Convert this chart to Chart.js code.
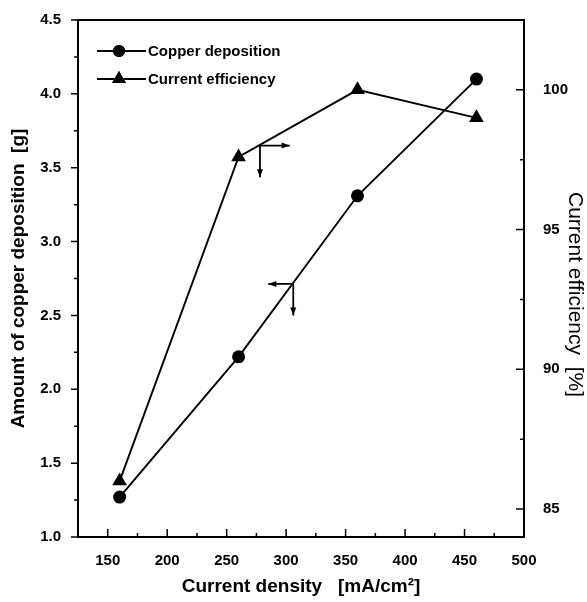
<!DOCTYPE html>
<html>
<head>
<meta charset="utf-8">
<script src="https://cdn.jsdelivr.net/npm/chart.js@4.4.1/dist/chart.umd.min.js"></script>
<style>
  html, body { margin: 0; padding: 0; background: #ffffff; }
  #wrap { width: 587px; height: 602px; }
</style>
</head>
<body>
<div id="wrap"><canvas id="c" width="587" height="602"></canvas></div>
<script>
// ---- Data ----
const currentDensity = [160, 260, 360, 460];          // mA/cm2
const copperDeposition = [1.27, 2.22, 3.31, 4.10];     // g (left axis)
const currentEfficiency = [86.0, 97.6, 100.0, 99.0];   // % (right axis)

const xTickValues = [150, 200, 250, 300, 350, 400, 450, 500];
const leftTickValues = [1.0, 1.5, 2.0, 2.5, 3.0, 3.5, 4.0, 4.5];
const rightTickValues = [85, 90, 95, 100];

const seriesNames = ['Copper deposition', 'Current efficiency'];
const rightTitle = 'Current efficiency  [%]';

// axis-indicator arrows (data coordinates: x, left-axis y)
const arrowOrigins = [[278, 3.65], [306, 2.713]];
const arrowHorizEnds = [303, 285];
const arrowVertEnds = [3.436, 2.499];

const FONT = "'Liberation Sans', Arial, sans-serif";

function arrowHead(ctx, x1, y1, x2, y2, len, half) {
  const a = Math.atan2(y2 - y1, x2 - x1);
  ctx.beginPath();
  ctx.moveTo(x2, y2);
  ctx.lineTo(x2 - len * Math.cos(a) + half * Math.sin(a), y2 - len * Math.sin(a) - half * Math.cos(a));
  ctx.lineTo(x2 - len * Math.cos(a) - half * Math.sin(a), y2 - len * Math.sin(a) + half * Math.cos(a));
  ctx.closePath();
  ctx.fill();
}

const framePlugin = {
  id: 'frame',
  afterDraw(chart) {
    const ctx = chart.ctx;
    const a = chart.chartArea;
    const sx = chart.scales.x, sy = chart.scales.y, sy1 = chart.scales.y1;
    ctx.save();
    ctx.strokeStyle = '#000';
    ctx.fillStyle = '#000';
    ctx.lineWidth = 2;
    ctx.strokeRect(a.left, a.top, a.right - a.left, a.bottom - a.top);
    ctx.lineWidth = 1.5;
    ctx.beginPath();
    // bottom axis ticks (inward)
    for (let v = 150; v <= 500; v += 25) {
      const px = sx.getPixelForValue(v);
      const major = v % 50 === 0;
      ctx.moveTo(px, a.bottom);
      ctx.lineTo(px, a.bottom - (major ? 8 : 4));
    }
    // left axis ticks (outward)
    for (let i = 0; i <= 14; i++) {
      const v = 1 + i * 0.25;
      const py = sy.getPixelForValue(v);
      const major = i % 2 === 0;
      ctx.moveTo(a.left, py);
      ctx.lineTo(a.left - (major ? 7 : 4), py);
    }
    // right axis ticks (inward)
    for (let v = 85; v <= 100; v += 2.5) {
      const py = sy1.getPixelForValue(v);
      const major = v % 5 === 0;
      ctx.moveTo(a.right, py);
      ctx.lineTo(a.right - (major ? 8 : 4), py);
    }
    ctx.stroke();

    // arrows
    ctx.lineWidth = 1.8;
    for (let i = 0; i < arrowOrigins.length; i++) {
      const ox = sx.getPixelForValue(arrowOrigins[i][0]);
      const oy = sy.getPixelForValue(arrowOrigins[i][1]);
      const hx = sx.getPixelForValue(arrowHorizEnds[i]);
      const vy = sy.getPixelForValue(arrowVertEnds[i]);
      ctx.beginPath();
      ctx.moveTo(ox, oy); ctx.lineTo(hx, oy);
      ctx.moveTo(ox, oy); ctx.lineTo(ox, vy);
      ctx.stroke();
      arrowHead(ctx, ox, oy, hx, oy, 8, 3);
      arrowHead(ctx, ox, oy, ox, vy, 8, 3);
    }

    // legend
    const rows = [
      { y: a.top + 31, style: 'circle', r: 6 },
      { y: a.top + 59, style: 'triangle', r: 8 }
    ];
    ctx.font = 'bold 15px ' + FONT;
    ctx.textBaseline = 'middle';
    ctx.textAlign = 'left';
    rows.forEach((row, i) => {
      const x0 = a.left + 19, x1 = a.left + 68, mx = a.left + 41;
      ctx.lineWidth = 1.8;
      ctx.beginPath();
      ctx.moveTo(x0, row.y); ctx.lineTo(x1, row.y);
      ctx.stroke();
      Chart.helpers.drawPoint(ctx, { pointStyle: row.style, radius: row.r, borderWidth: 0, rotation: 0 }, mx, row.y);
      ctx.fill();
      ctx.fillText(seriesNames[i], a.left + 70, row.y + 1);
    });

    // right axis title (rotated clockwise)
    ctx.save();
    ctx.translate(chart.width - 12, (a.top + a.bottom) / 2 + 16);
    ctx.rotate(Math.PI / 2);
    ctx.font = '21px ' + FONT;
    ctx.textAlign = 'center';
    ctx.textBaseline = 'middle';
    ctx.fillText(rightTitle, 0, 0);
    ctx.restore();

    ctx.restore();
  }
};

const pts = (xs, ys) => xs.map((x, i) => ({ x: x, y: ys[i] }));

new Chart(document.getElementById('c'), {
  type: 'line',
  data: {
    datasets: [
      {
        label: seriesNames[0],
        data: pts(currentDensity, copperDeposition),
        yAxisID: 'y',
        borderColor: '#000',
        borderWidth: 1.9,
        pointStyle: 'circle',
        pointRadius: 6.5,
        pointBackgroundColor: '#000',
        pointBorderWidth: 0,
        tension: 0
      },
      {
        label: seriesNames[1],
        data: pts(currentDensity, currentEfficiency),
        yAxisID: 'y1',
        borderColor: '#000',
        borderWidth: 1.9,
        pointStyle: 'triangle',
        pointRadius: 8.5,
        pointBackgroundColor: '#000',
        pointBorderWidth: 0,
        tension: 0
      }
    ]
  },
  options: {
    responsive: false,
    animation: false,
    layout: { padding: { top: 14, left: 0, right: 0, bottom: 0 } },
    plugins: { legend: { display: false }, tooltip: { enabled: false } },
    scales: {
      x: {
        type: 'linear',
        position: 'bottom',
        min: 125, max: 500,
        grid: { display: false },
        border: { display: false },
        afterBuildTicks: s => { s.ticks = xTickValues.map(v => ({ value: v })); },
        afterFit: s => { s.height = 65; },
        ticks: {
          color: '#000', font: { family: FONT, size: 15, weight: 'bold' },
          padding: 7, maxRotation: 0, autoSkip: false,
          callback: v => String(v)
        },
        title: {
          display: true, text: 'Current density   [mA/cm²]', color: '#000',
          font: { family: FONT, size: 19, weight: 'bold' },
          padding: { top: 0, bottom: 4 }
        }
      },
      y: {
        type: 'linear',
        position: 'left',
        min: 1.0, max: 4.5,
        grid: { display: false },
        border: { display: false },
        afterBuildTicks: s => { s.ticks = leftTickValues.map(v => ({ value: v })); },
        afterFit: s => { s.width = 78; },
        ticks: {
          color: '#000', font: { family: FONT, size: 15, weight: 'bold' },
          padding: 9, autoSkip: false,
          callback: v => Number(v).toFixed(1)
        },
        title: {
          display: true, text: 'Amount of copper deposition  [g]', color: '#000',
          font: { family: FONT, size: 19, weight: 'bold' },
          padding: { top: 7, bottom: 0 }
        }
      },
      y1: {
        type: 'linear',
        position: 'right',
        min: 84, max: 102.5,
        grid: { display: false },
        border: { display: false },
        afterBuildTicks: s => { s.ticks = rightTickValues.map(v => ({ value: v })); },
        afterFit: s => { s.width = 63; },
        ticks: {
          color: '#000', font: { family: FONT, size: 15, weight: 'bold' },
          padding: 11, autoSkip: false,
          callback: v => String(v)
        },
        title: { display: false }
      }
    }
  },
  plugins: [framePlugin]
});
</script>
</body>
</html>
